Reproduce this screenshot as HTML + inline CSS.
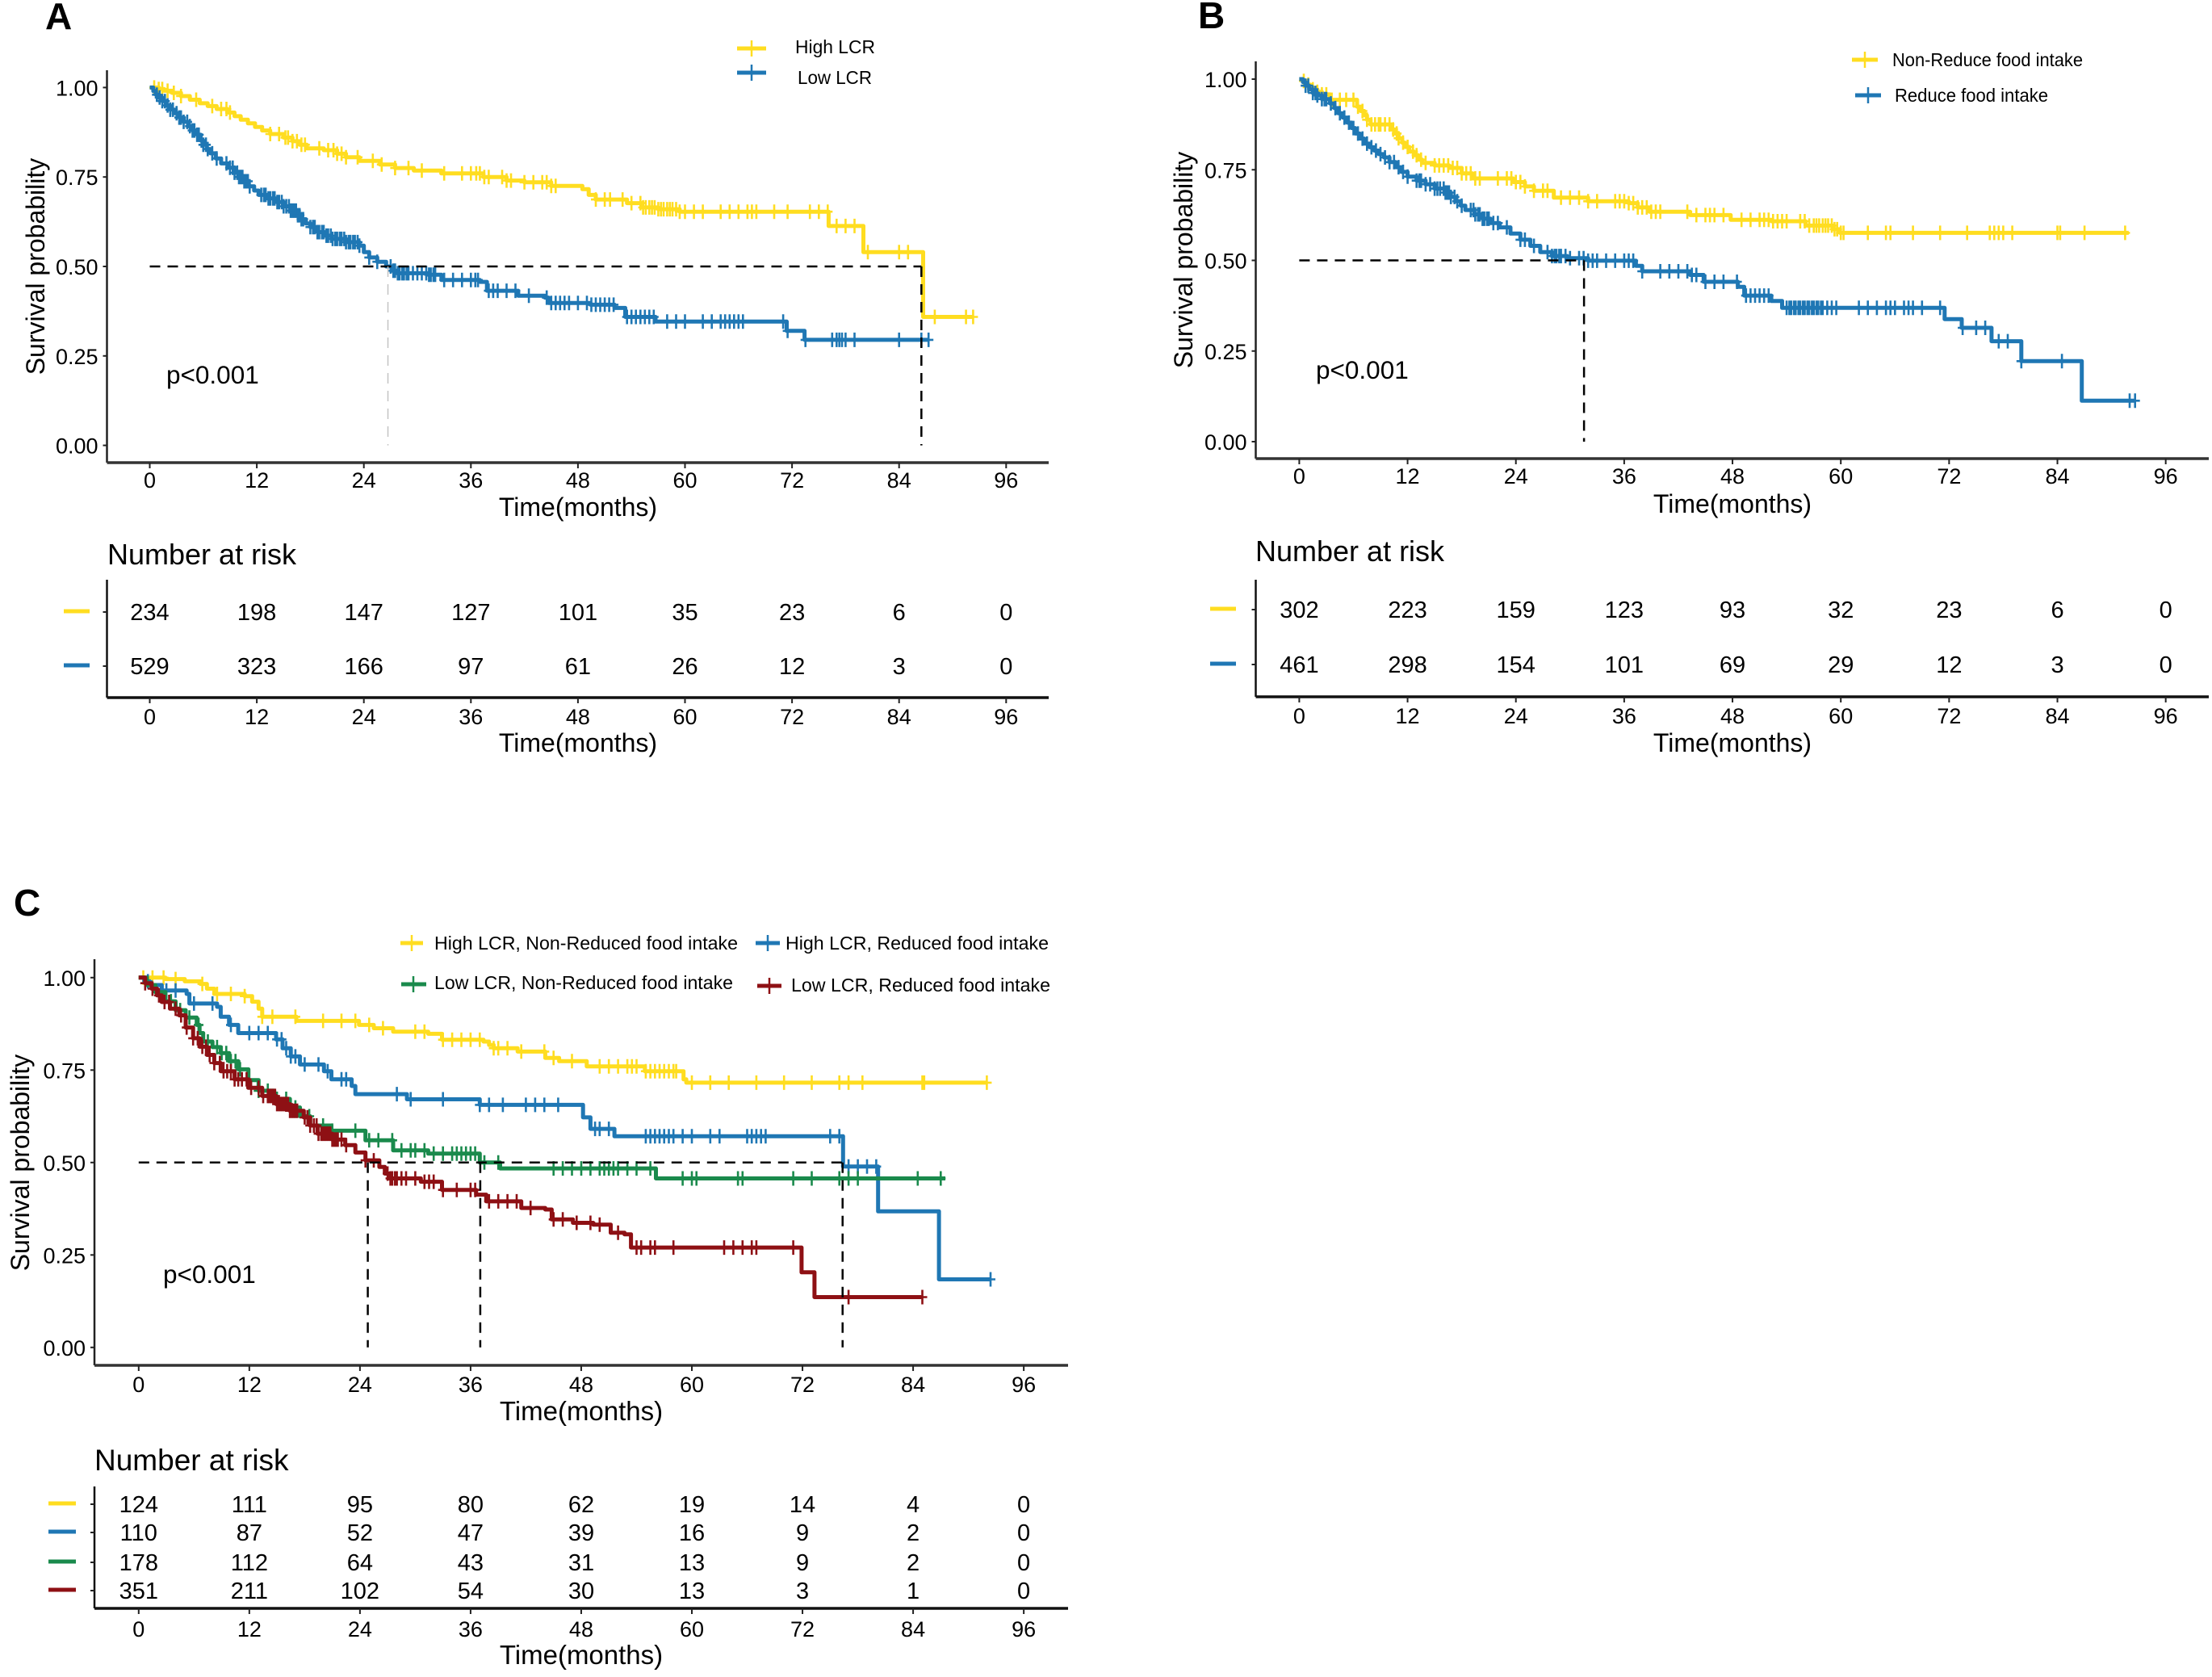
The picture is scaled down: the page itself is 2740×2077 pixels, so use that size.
<!DOCTYPE html>
<html lang="en">
<head>
<meta charset="utf-8">
<title>Kaplan-Meier survival curves</title>
<style>
html,body{margin:0;padding:0;background:#fff;}
svg{display:block;}
text{font-family:"Liberation Sans",Arial,sans-serif;fill:#000;}
.tick{font-size:27px;}
.count{font-size:29px;}
.axis-title{font-size:32px;}
.axis-title-c{font-size:33px;}
.risk-title{font-size:36px;}
.risk-title-c{font-size:37px;}
.pval{font-size:31.5px;}
.legend{font-size:23px;}
.letter{font-size:46px;font-weight:bold;}
</style>
</head>
<body>
<svg id="chart" xmlns="http://www.w3.org/2000/svg" width="2740" height="2077" viewBox="0 0 2740 2077">
  <rect x="0" y="0" width="2740" height="2077" fill="#fff"/>

  <!-- Panel letters -->
  <text class="letter" x="56" y="36">A</text>
  <text class="letter" x="1484" y="35">B</text>
  <text class="letter" x="17" y="1134">C</text>

  <!-- Y axis titles -->
  <text class="axis-title" transform="translate(55,330) rotate(-90)" text-anchor="middle">Survival probability</text>
  <text class="axis-title" transform="translate(1477,322) rotate(-90)" text-anchor="middle">Survival probability</text>
  <text class="axis-title" transform="translate(36,1440) rotate(-90)" text-anchor="middle">Survival probability</text>

  <!-- X axis titles -->
  <text class="axis-title" x="716" y="639" text-anchor="middle">Time(months)</text>
  <text class="axis-title" x="716" y="931" text-anchor="middle">Time(months)</text>
  <text class="axis-title" x="2146" y="635" text-anchor="middle">Time(months)</text>
  <text class="axis-title" x="2146" y="931" text-anchor="middle">Time(months)</text>
  <text class="axis-title-c" x="720" y="1759" text-anchor="middle">Time(months)</text>
  <text class="axis-title-c" x="720" y="2061" text-anchor="middle">Time(months)</text>

  <!-- P values -->
  <text class="pval" x="206" y="475">p&lt;0.001</text>
  <text class="pval" x="1630" y="469">p&lt;0.001</text>
  <text class="pval" x="202" y="1589">p&lt;0.001</text>

  <!-- Risk table titles -->
  <text class="risk-title" x="133" y="699">Number at risk</text>
  <text class="risk-title" x="1555" y="695">Number at risk</text>
  <text class="risk-title-c" x="117" y="1821">Number at risk</text>

  <!-- Legends -->
  <g>
    <g>
      <path d="M913 60H949" stroke="#FFDD20" stroke-width="5" fill="none"/>
      <path d="M931 50V70" stroke="#FFDD20" stroke-width="2.5" fill="none"/>
      <text class="legend" x="985" y="66" textLength="99" lengthAdjust="spacingAndGlyphs">High LCR</text>
    </g>
    <g>
      <path d="M913 90H949" stroke="#1F77B4" stroke-width="5" fill="none"/>
      <path d="M931 80V100" stroke="#1F77B4" stroke-width="2.5" fill="none"/>
      <text class="legend" x="988" y="104" textLength="92" lengthAdjust="spacingAndGlyphs">Low LCR</text>
    </g>
  </g>
  <g>
    <g>
      <path d="M2294 74H2326" stroke="#FFDD20" stroke-width="5" fill="none"/>
      <path d="M2310 64V84" stroke="#FFDD20" stroke-width="2.5" fill="none"/>
      <text class="legend" x="2344" y="82" textLength="236" lengthAdjust="spacingAndGlyphs">Non-Reduce food intake</text>
    </g>
    <g>
      <path d="M2298 118H2330" stroke="#1F77B4" stroke-width="5" fill="none"/>
      <path d="M2314 108V128" stroke="#1F77B4" stroke-width="2.5" fill="none"/>
      <text class="legend" x="2347" y="126" textLength="190" lengthAdjust="spacingAndGlyphs">Reduce food intake</text>
    </g>
  </g>
  <g>
    <g>
      <path d="M496 1168H524" stroke="#FFDD20" stroke-width="5" fill="none"/>
      <path d="M510 1158V1178" stroke="#FFDD20" stroke-width="2.5" fill="none"/>
      <text class="legend" x="538" y="1176" textLength="376" lengthAdjust="spacingAndGlyphs">High LCR, Non-Reduced food intake</text>
    </g>
    <g>
      <path d="M936 1168H966" stroke="#1F77B4" stroke-width="5" fill="none"/>
      <path d="M951 1158V1178" stroke="#1F77B4" stroke-width="2.5" fill="none"/>
      <text class="legend" x="973" y="1176" textLength="326" lengthAdjust="spacingAndGlyphs">High LCR, Reduced food intake</text>
    </g>
    <g>
      <path d="M497 1219H528" stroke="#1A8A4C" stroke-width="5" fill="none"/>
      <path d="M512 1209V1229" stroke="#1A8A4C" stroke-width="2.5" fill="none"/>
      <text class="legend" x="538" y="1225" textLength="370" lengthAdjust="spacingAndGlyphs">Low LCR, Non-Reduced food intake</text>
    </g>
    <g>
      <path d="M938 1221H968" stroke="#8E1014" stroke-width="5" fill="none"/>
      <path d="M953 1211V1231" stroke="#8E1014" stroke-width="2.5" fill="none"/>
      <text class="legend" x="980" y="1228" textLength="321" lengthAdjust="spacingAndGlyphs">Low LCR, Reduced food intake</text>
    </g>
  </g>
</svg>

<script>
// ---- shared axis labels ----
const xTickLabels = [0, 12, 24, 36, 48, 60, 72, 84, 96];
const yTickLabels = ['0.00', '0.25', '0.50', '0.75', '1.00'];
const yTickValues = [0, 0.25, 0.5, 0.75, 1];

// ---- panel A: [month, survival] steps, censor months, number at risk ----
const aHighSteps = [[0,1],[1,.996],[1.6,.991],[2.5,.985],[3.5,.976],[4.5,.966],[5.6,.956],[6.5,.948],[7.5,.94],[8.7,.93],[9.5,.92],[10.2,.91],[11,.9],[11.8,.89],[12.6,.88],[13.5,.87],[15,.86],[16,.85],[16.8,.84],[17.6,.83],[19.5,.825],[21,.815],[22,.805],[23.5,.795],[25.8,.785],[27.5,.775],[29.6,.768],[32.7,.76],[37.4,.75],[40,.74],[42,.735],[45,.725],[48.5,.716],[49.2,.70],[50,.687],[53.5,.677],[55.2,.665],[57,.66],[59.4,.653],[76.1,.613],[80,.54],[86.7,.359]];
const aHighEnd = 92.3;
const aHighCensor = [.5,1,1.4,2,2.7,3.5,5.2,7,8,8.6,9,13.5,14.5,15.2,15.5,16,16.5,17,17.4,19,20,20.6,21,21.5,22,23.3,25,26,27.5,29,30.5,33,35,36,36.6,37,37.5,38,39.5,40,40.5,42,43,44,44.5,45,45.5,50,51,51.6,53,54,55,55.3,55.6,56,56.3,56.6,57,57.3,57.6,58,58.3,58.6,59,59.4,60,61,62,64,65,66,67,67.5,68,70,71.5,74,75,76,77,78,79,80.5,84,85,88,91.5,92.3];
const aLowSteps = [[0,1],[.4,.99],[.7,.98],[1,.972],[1.4,.962],[1.8,.95],[2.3,.938],[2.8,.928],[3.3,.916],[3.8,.904],[4.3,.892],[4.8,.88],[5.3,.868],[5.7,.852],[6,.84],[6.4,.828],[6.8,.816],[7.4,.802],[8,.788],[8.8,.776],[9.5,.762],[10,.75],[10.5,.738],[11.1,.724],[11.7,.712],[12.2,.7],[13.2,.69],[14.2,.68],[15,.668],[15.7,.656],[16.5,.643],[17,.632],[17.5,.62],[18,.61],[18.8,.596],[19.6,.586],[20.4,.577],[22,.568],[23.5,.558],[24,.54],[24.6,.525],[25.5,.513],[26.5,.5],[27.2,.488],[27.7,.481],[31.2,.477],[32.7,.462],[37,.457],[37.8,.432],[41.3,.418],[44.3,.413],[44.7,.398],[49.4,.393],[52.1,.384],[53.3,.359],[56.7,.346],[71.4,.32],[73.4,.295]];
const aLowEnd = 87.3;
const aLowCensor = [.8,1.1,1.4,1.7,2,2.3,2.6,3,3.3,3.5,3.8,4.2,4.5,4.8,5,5.3,5.5,5.8,6,6.3,6.5,7,7.5,8.6,9,9.3,9.5,9.8,10,10.2,10.4,10.6,10.8,11,11.2,12.5,12.8,13,13.3,13.5,13.8,14,14.3,14.5,14.8,15,15.3,15.6,15.8,16,16.2,16.4,16.6,16.8,17,17.2,18,18.3,18.5,18.8,19,19.3,19.5,19.8,20,20.3,20.5,20.8,21,21.3,21.5,21.8,22,22.3,22.5,22.8,23,23.3,23.5,24.6,25.5,27,27.3,27.5,27.8,28,28.3,28.5,28.8,29,29.5,30,30.5,31,31.3,31.5,31.8,32,33,34,35,36,36.5,36.8,38,38.5,39,40,41,42.5,44.5,45,45.5,46,46.5,47,48,49,49.5,50,50.5,51,51.5,52,53.5,54,54.5,55,55.5,56,56.5,58,59,60,62,63,64,64.5,65,65.5,66,66.5,71,71.5,73.5,76.5,77,77.3,77.6,78,79,84,86.5,87.3];
const aRiskHigh = [234,198,147,127,101,35,23,6,0];
const aRiskLow = [529,323,166,97,61,26,12,3,0];

// ---- panel B ----
const bNonSteps = [[0,1],[.4,.995],[.8,.985],[1.2,.978],[1.5,.972],[2,.965],[2.5,.958],[3.4,.943],[6.4,.924],[6.8,.912],[7.2,.9],[7.5,.888],[7.9,.875],[10.2,.861],[10.6,.85],[11,.837],[11.4,.825],[11.7,.813],[12.2,.8],[12.7,.79],[13.2,.778],[13.6,.769],[15,.762],[16.6,.755],[18,.74],[19.2,.726],[23.7,.716],[25,.704],[26,.692],[28.2,.673],[32,.663],[36.5,.658],[37.5,.646],[38.8,.634],[43.3,.625],[47.8,.612],[52.3,.608],[56.1,.596],[59.1,.586],[59.9,.576]];
const bNonEnd = 91.9;
const bNonCensor = [.5,1,1.5,2,2.5,3,3.6,4.5,5.2,6,6.5,7,7.5,8,8.4,8.8,9,9.5,10,10.4,10.8,11,11.5,12,12.6,13,13.5,14,15,15.5,16,16.5,17,17.5,18,18.5,19,19.5,20,22,23,23.5,24,24.5,25,26,27,27.5,29,30,31,32,33,35,35.5,36,36.5,37,37.5,38,38.5,39,39.5,40,43,44,45,45.5,46,47,49,50,51,51.5,52,52.5,53,53.5,54,55.5,56,56.5,57,57.3,57.6,58,58.3,58.6,59,59.3,59.6,60,60.3,63,65,65.5,68,71,74,76.5,77,77.5,78,79,84,84.3,87,91.5];
const bRedSteps = [[0,1],[.4,.992],[.7,.982],[1.1,.972],[1.5,.962],[2,.955],[2.5,.945],[3.4,.933],[3.9,.92],[4.3,.906],[4.8,.894],[5.3,.88],[5.8,.865],[6.2,.85],[6.7,.836],[7.2,.822],[7.8,.812],[8.3,.803],[8.8,.793],[9.4,.784],[10,.771],[10.7,.757],[11.3,.744],[12,.731],[13,.72],[14,.71],[15,.698],[16.2,.687],[16.8,.675],[17.3,.663],[17.9,.651],[18.4,.639],[19.4,.627],[20.3,.615],[21.2,.603],[22.2,.591],[23.4,.574],[24.5,.557],[25.6,.54],[26.7,.523],[28,.512],[29.7,.506],[32,.499],[37.3,.485],[38,.47],[43.3,.46],[44.8,.441],[48.6,.427],[49.3,.403],[52.3,.388],[53.5,.369],[71.5,.338],[73.4,.314],[76.7,.277],[80,.222],[86.7,.113]];
const bRedEnd = 92.6;
const bRedCensor = [.7,1,1.5,1.8,2,2.5,2.8,3,3.5,4,4.5,5,5.5,6,6.5,7,7.5,8,8.5,9,9.5,10,10.5,11,11.5,12,13,13.3,13.5,14,14.5,15,15.3,15.6,16,16.2,16.4,16.6,16.8,17.2,17.5,18,19,19.3,19.5,19.8,20,20.3,20.5,20.8,21,21.5,22,23,24.5,25,26,27.5,28,28.3,28.5,28.8,29,29.5,30,31,31.5,32,32.5,33,34,35,36,36.5,37,38,40,41,42,43,43.5,44,45,46,47,48.5,49.5,50,50.5,51,51.5,52,54,54.3,54.5,54.8,55,55.3,55.5,55.8,56,56.3,56.5,56.8,57,57.3,57.5,57.8,58,58.5,59,59.5,62,63,64,65,65.5,66,67,67.5,68,69,71,73.5,75,76,77.5,78.5,80,84.5,92,92.6];
const bRiskNon = [302,223,159,123,93,32,23,6,0];
const bRiskRed = [461,298,154,101,69,29,12,3,0];

// ---- panel C ----
const cHighNonSteps = [[0,1],[2.9,.996],[5,.99],[6.7,.983],[7.4,.97],[8.2,.956],[11.5,.95],[12.3,.935],[13,.916],[13.4,.894],[17.1,.883],[23.9,.872],[25.5,.863],[27.6,.854],[31.4,.848],[32.9,.832],[37.4,.827],[38,.818],[38.5,.809],[41.1,.8],[44.1,.783],[45.6,.774],[48.6,.76],[54.9,.747],[59.1,.725],[59.4,.716]];
const cHighNonEnd = 92;
const cHighNonCensor = [.5,1.5,2.7,4,6.9,8.5,10,11.5,13.4,14.5,17,20,22,23.5,25,26.5,30,31,33,34,35,36,37,38.5,39,40,41.5,44,45,47,50,51,52,53,53.5,54,55,55.5,56,56.5,57,57.5,58,58.3,60,62,64,67,70,73,76,77,78.5,85,85.2,92];
const cHighRedSteps = [[0,1],[.6,.99],[1.2,.98],[2.5,.965],[5.2,.956],[5.5,.93],[8.5,.921],[8.9,.894],[9.8,.872],[10.8,.85],[14.9,.833],[15.6,.809],[16.5,.787],[17.5,.765],[20.1,.747],[20.9,.725],[23.1,.707],[23.5,.685],[29.1,.671],[37,.656],[48.2,.622],[49,.591],[51.6,.571],[76.4,.489],[80.2,.368],[86.8,.184]];
const cHighRedEnd = 92.4;
const cHighRedCensor = [1,3,4,6,8,10,12,13,14,15,15.5,16,16.5,17,18,19.5,20.5,22,22.5,28,29.5,33,37,38,39.5,42,43,44,45.5,49.5,50,51,55,55.5,56,56.5,57,57.5,58,59,60,62,63,66,66.5,67,67.5,68,75,76,77,78,79,80,92.4];
const cLowNonSteps = [[0,1],[.9,.98],[1.8,.961],[2.9,.936],[4,.912],[5.1,.892],[6.3,.872],[6.6,.85],[7,.827],[8,.812],[8.9,.796],[9.8,.774],[10.8,.752],[11.9,.723],[13,.694],[14.7,.672],[16.4,.649],[17.5,.625],[18.6,.6],[20.9,.586],[24.6,.56],[27.6,.533],[31.4,.524],[37,.5],[39.2,.484],[56.1,.457]];
const cLowNonEnd = 87.5;
const cLowNonCensor = [3.5,4.5,5.5,6.5,7.5,8.5,9,9.5,10,10.5,11,13,14,15,16,17,18.5,20,21,23.5,25,26,27.5,28.5,29.5,30,31,32,33,34,34.5,35,35.5,36,36.5,37.5,39,45,46,47,48,49,50,50.5,51,51.5,52,53,54,55.5,59,60,60.5,65,65.5,71,73,76,77,78,84.5,87];
const cLowRedSteps = [[0,1],[.7,.985],[1.4,.97],[2,.952],[2.5,.934],[3.4,.916],[4.4,.898],[5.1,.865],[5.9,.836],[6.6,.813],[7.4,.791],[8.2,.769],[8.9,.747],[10.4,.725],[11.9,.702],[13.4,.68],[14.9,.658],[16.4,.64],[17.9,.622],[18.6,.6],[19.4,.578],[21,.562],[22.4,.547],[23.5,.527],[24.6,.506],[26.1,.488],[26.7,.47],[27.2,.457],[30.6,.448],[32.9,.426],[36.6,.413],[37.7,.395],[41.5,.377],[44.1,.373],[44.8,.346],[47.1,.337],[49.3,.332],[51.2,.31],[52.7,.306],[53.4,.27],[71.9,.203],[73.3,.136]];
const cLowRedEnd = 84.9;
const cLowRedCensor = [.7,1.5,2.2,2.8,3.3,4,4.6,5.2,5.9,6.4,6.9,7.3,7.7,8.2,8.8,9.2,9.6,10,10.4,10.8,11.2,11.7,12.2,13,13.5,14,14.2,14.4,14.6,14.8,15,15.2,15.4,15.6,15.8,16,16.2,16.4,16.6,16.8,17,17.2,18,18.3,18.6,19,19.3,19.5,19.8,20,20.2,20.4,20.6,20.8,21,21.2,21.4,21.6,22,22.5,24.6,25.5,27,27.3,27.5,27.8,28,28.5,29,30,31,31.5,32,33,34.5,36,36.5,38,39,40,41,42.5,45,46,47.5,49,50,52,54,54.5,55.5,56,58,63.5,64.5,65.5,66.5,67,71,77,85];
const cRiskHighNon = [124,111,95,80,62,19,14,4,0];
const cRiskHighRed = [110,87,52,47,39,16,9,2,0];
const cRiskLowNon = [178,112,64,43,31,13,9,2,0];
const cRiskLowRed = [351,211,102,54,30,13,3,1,0];

// ---- drawing ----
const NS = 'http://www.w3.org/2000/svg';
const YELLOW = '#FFDD20', BLUE = '#1F77B4', GREEN = '#1A8A4C', RED = '#8E1014';
const root = document.getElementById('chart');

function mk(tag, attrs, parent, txt) {
  const n = document.createElementNS(NS, tag);
  for (const k in attrs) n.setAttribute(k, attrs[k]);
  if (txt !== undefined) n.textContent = txt;
  parent.appendChild(n);
  return n;
}
function survAt(steps, t) {
  let s = steps[0][1];
  for (const st of steps) { if (st[0] <= t) s = st[1]; else break; }
  return s;
}

function drawPanel(p) {
  const xOf = t => p.x0 + t * p.perMonth;
  const yOf = s => p.y0 + (p.y1 - p.y0) * s;
  const xRisk = t => p.x0 + t * p.perMonth;

  // main plot
  const axisG = mk('g', {}, root);
  
  
  const yLine = mk('line', {x1: p.left, x2: p.left, y1: p.top, y2: p.bottom, stroke: '#222', 'stroke-width': 2.5}, axisG);
  
  
  const xLine = mk('line', {x1: p.left, x2: p.right, y1: p.bottom, y2: p.bottom, stroke: '#333', 'stroke-width': 3.5}, axisG);
  
  

  yTickValues.forEach((v, i) => {
    const tk = mk('line', {x1: p.left - 5, x2: p.left, y1: yOf(v), y2: yOf(v), stroke: '#222', 'stroke-width': 2}, axisG);
    
    
    const lb = mk('text', {class: 'tick', x: p.left - 11, y: yOf(v) + 10, 'text-anchor': 'end'}, axisG, yTickLabels[i]);
    
    
  });
  xTickLabels.forEach(v => {
    const tk = mk('line', {x1: xOf(v), x2: xOf(v), y1: p.bottom, y2: p.bottom + 7, stroke: '#222', 'stroke-width': 2}, axisG);
    
    
    const lb = mk('text', {class: 'tick', x: xOf(v), y: p.bottom + p.xLabelDy, 'text-anchor': 'middle'}, axisG, String(v));
    
    
  });

  // series
  p.series.forEach(s => {
    const g = mk('g', {}, root);
    
    
    let d = 'M' + xOf(s.steps[0][0]) + ' ' + yOf(s.steps[0][1]);
    s.steps.forEach(st => { d += 'H' + xOf(st[0]).toFixed(1) + 'V' + yOf(st[1]).toFixed(1); });
    d += 'H' + xOf(s.end).toFixed(1);
    const line = mk('path', {d: d, fill: 'none', stroke: s.color, 'stroke-width': 5, 'stroke-linejoin': 'round'}, g);
    
    
    s.censor.forEach(t => {
      const cy = yOf(survAt(s.steps, t));
      const cx = xOf(t);
      const m = mk('path', {d: 'M' + cx.toFixed(1) + ' ' + (cy - 9).toFixed(1) + 'V' + (cy + 9).toFixed(1) + 'M' + (cx - 6).toFixed(1) + ' ' + cy.toFixed(1) + 'H' + (cx + 6).toFixed(1), stroke: s.color, 'stroke-width': 2.6, fill: 'none'}, g);
      
      
    });
  });

  // median guide lines
  const medG = mk('g', {fill: 'none', 'stroke-dasharray': '13 9', 'stroke-width': 2.5, stroke: '#000'}, root);
  
  
  const hl = mk('line', {x1: xOf(0), x2: xOf(Math.max.apply(null, p.medians.map(m => m.t))), y1: yOf(.5), y2: yOf(.5)}, medG);
  
  
  p.medians.forEach(m => {
    const vl = mk('line', {x1: xOf(m.t), x2: xOf(m.t), y1: yOf(.5), y2: yOf(0), stroke: m.color || '#000', 'stroke-width': m.width || 2.5}, medG);
    
    
  });

  // risk table
  const rg = mk('g', {}, root);
  
  
  const rY = mk('line', {x1: p.left, x2: p.left, y1: p.risk.top, y2: p.risk.bottom, stroke: '#111', 'stroke-width': 2.5}, rg);
  
  
  const rX = mk('line', {x1: p.left, x2: p.right, y1: p.risk.bottom, y2: p.risk.bottom, stroke: '#111', 'stroke-width': 3.5}, rg);
  
  
  xTickLabels.forEach(v => {
    const tk = mk('line', {x1: xRisk(v), x2: xRisk(v), y1: p.risk.bottom, y2: p.risk.bottom + 7, stroke: '#222', 'stroke-width': 2}, rg);
    
    
    const lb = mk('text', {class: 'tick', x: xRisk(v), y: p.risk.bottom + p.risk.labelDy, 'text-anchor': 'middle'}, rg, String(v));
    
    
  });
  p.risk.rows.forEach(r => {
    const key = mk('line', {x1: p.risk.keyX1, x2: p.risk.keyX2, y1: r.y - 1, y2: r.y - 1, stroke: r.color, 'stroke-width': 5}, rg);
    
    
    const tk = mk('line', {x1: p.left - 5, x2: p.left, y1: r.y, y2: r.y, stroke: '#222', 'stroke-width': 2}, rg);
    
    
    r.values.forEach((v, i) => {
      const c = mk('text', {class: 'count', x: xRisk(xTickLabels[i]), y: r.y + 10, 'text-anchor': 'middle'}, rg, String(v));
      
      
    });
  });
}

drawPanel({
  id: 'a', x0: 185.5, perMonth: 11.05, y1: 108.4, y0: 551.6,
  left: 132.5, top: 87, bottom: 573, right: 1299, xLabelDy: 31,
  series: [
    {name: 'high-lcr', color: YELLOW, steps: aHighSteps, end: aHighEnd, censor: aHighCensor},
    {name: 'low-lcr', color: BLUE, steps: aLowSteps, end: aLowEnd, censor: aLowCensor}
  ],
  medians: [{t: 26.7, color: '#c4c4c4', width: 1.5}, {t: 86.5}],
  risk: {top: 718, bottom: 864, labelDy: 33, keyX1: 79, keyX2: 111, rows: [
    {y: 758, color: YELLOW, values: aRiskHigh},
    {y: 825, color: BLUE, values: aRiskLow}
  ]}
});
drawPanel({
  id: 'b', x0: 1609.4, perMonth: 11.18, y1: 98, y0: 547,
  left: 1555.5, top: 76, bottom: 568, right: 2736, xLabelDy: 31,
  series: [
    {name: 'non-reduce-food', color: YELLOW, steps: bNonSteps, end: bNonEnd, censor: bNonCensor},
    {name: 'reduce-food', color: BLUE, steps: bRedSteps, end: bRedEnd, censor: bRedCensor}
  ],
  medians: [{t: 31.55}],
  risk: {top: 718, bottom: 863, labelDy: 33, keyX1: 1499, keyX2: 1531, rows: [
    {y: 755, color: YELLOW, values: bRiskNon},
    {y: 823, color: BLUE, values: bRiskRed}
  ]}
});
drawPanel({
  id: 'c', x0: 171.8, perMonth: 11.42, y1: 1210.8, y0: 1668.8,
  left: 117, top: 1188, bottom: 1691, right: 1323, xLabelDy: 33,
  series: [
    {name: 'high-lcr-non-reduced', color: YELLOW, steps: cHighNonSteps, end: cHighNonEnd, censor: cHighNonCensor},
    {name: 'high-lcr-reduced', color: BLUE, steps: cHighRedSteps, end: cHighRedEnd, censor: cHighRedCensor},
    {name: 'low-lcr-non-reduced', color: GREEN, steps: cLowNonSteps, end: cLowNonEnd, censor: cLowNonCensor},
    {name: 'low-lcr-reduced', color: RED, steps: cLowRedSteps, end: cLowRedEnd, censor: cLowRedCensor}
  ],
  medians: [{t: 24.85}, {t: 37.05}, {t: 76.35}],
  risk: {top: 1841, bottom: 1992, labelDy: 35, keyX1: 60, keyX2: 94, rows: [
    {y: 1863, color: YELLOW, values: cRiskHighNon},
    {y: 1898, color: BLUE, values: cRiskHighRed},
    {y: 1935, color: GREEN, values: cRiskLowNon},
    {y: 1970, color: RED, values: cRiskLowRed}
  ]}
});
</script>
</body>
</html>
